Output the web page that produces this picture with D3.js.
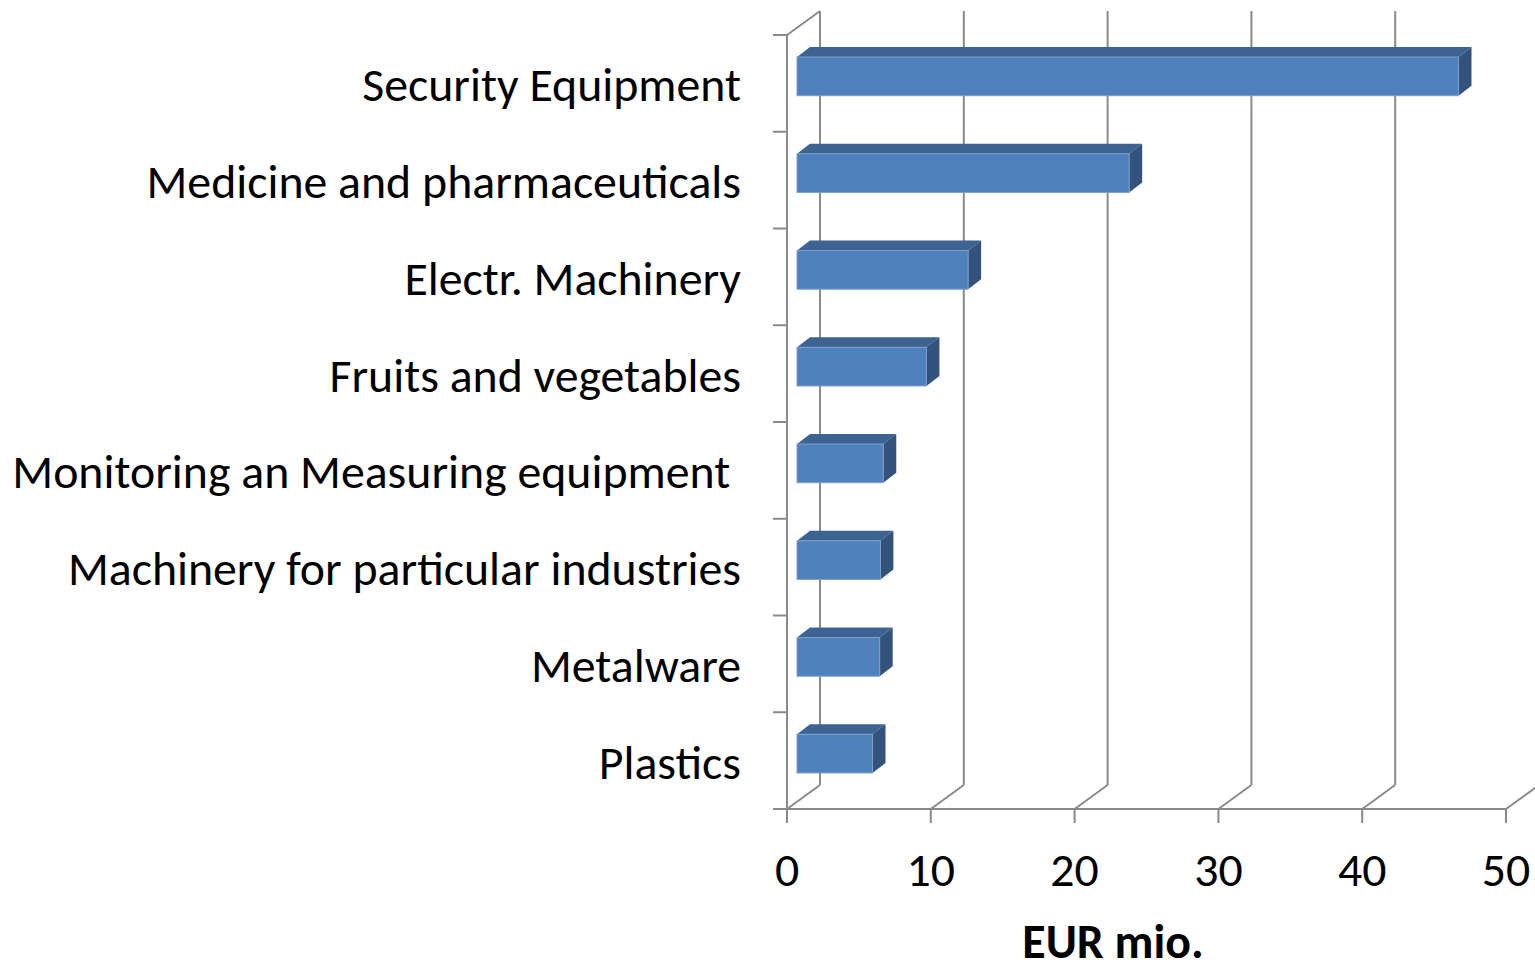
<!DOCTYPE html>
<html>
<head>
<meta charset="utf-8">
<script src="https://cdn.jsdelivr.net/npm/d3@7"></script>
<style>
  html, body { margin: 0; padding: 0; background: #ffffff; }
  svg { display: block; }
  text { font-family: Carlito, Calibri, Lato, "Open Sans", sans-serif; fill: #000; }
</style>
</head>
<body>
<svg id="chart" width="1535" height="972"></svg>
<script>
const categories = [
  "Security Equipment",
  "Medicine and pharmaceuticals",
  "Electr. Machinery",
  "Fruits and vegetables",
  "Monitoring an Measuring equipment ",
  "Machinery for particular industries",
  "Metalware",
  "Plastics"
];
const values = [46.0, 23.1, 11.9, 9.0, 6.0, 5.8, 5.75, 5.25];
const xTicks = [0, 10, 20, 30, 40, 50];
const axisTitle = "EUR mio.";

const svg = d3.select("#chart");

const x = d3.scaleLinear().domain([0, 50]).range([787, 1506]);
const y = d3.scaleBand().domain(categories).range([35, 809]).paddingInner(0).paddingOuter(0);

const DX = 33, DY = -24;         // back wall offset
const BX = 10, BY = -7;          // bar front-face offset
const BDX = 13, BDY = -10;       // bar depth
const barH = y.bandwidth() * 0.4;
const gridColor = "#8a8a8a";
const gw = 2;

const grid = svg.append("g");
const y0 = y.range()[0], y1 = y.range()[1];

xTicks.forEach(t => {
  const px = x(t);
  grid.append("line").attr("x1", px + DX).attr("x2", px + DX)
    .attr("y1", y0 + DY).attr("y2", y1 + DY)
    .attr("stroke", gridColor).attr("stroke-width", gw);
  grid.append("line").attr("x1", px).attr("y1", y1)
    .attr("x2", px + DX).attr("y2", y1 + DY)
    .attr("stroke", gridColor).attr("stroke-width", gw);
});
grid.append("line").attr("x1", x(0)).attr("y1", y0)
  .attr("x2", x(0) + DX).attr("y2", y0 + DY)
  .attr("stroke", gridColor).attr("stroke-width", gw);
grid.append("line").attr("x1", x(0)).attr("x2", x(0))
  .attr("y1", y0).attr("y2", y1)
  .attr("stroke", gridColor).attr("stroke-width", gw);
grid.append("line").attr("x1", x(0) - 14).attr("x2", x(50))
  .attr("y1", y1).attr("y2", y1)
  .attr("stroke", gridColor).attr("stroke-width", gw);
const boundaries = categories.map(c => y(c)).concat([y1]);
boundaries.forEach(b => {
  grid.append("line").attr("x1", x(0) - 14).attr("x2", x(0))
    .attr("y1", b).attr("y2", b)
    .attr("stroke", gridColor).attr("stroke-width", gw);
});
xTicks.forEach(t => {
  grid.append("line").attr("x1", x(t)).attr("x2", x(t))
    .attr("y1", y1).attr("y2", y1 + 14)
    .attr("stroke", gridColor).attr("stroke-width", gw);
});

const bars = svg.append("g");
categories.forEach((c, i) => {
  const v = values[i];
  const cy = y(c) + y.bandwidth() / 2 + BY;
  const top = cy - barH / 2, bot = cy + barH / 2;
  const xa = x(0) + BX, xb = x(v) + BX;
  bars.append("polygon")
    .attr("points", [[xa, top], [xa + BDX, top + BDY], [xb + BDX, top + BDY], [xb, top]].map(p => p.join(",")).join(" "))
    .attr("fill", "#3c6391");
  bars.append("polygon")
    .attr("points", [[xb, top], [xb + BDX, top + BDY], [xb + BDX, bot + BDY], [xb, bot]].map(p => p.join(",")).join(" "))
    .attr("fill", "#33537c");
  bars.append("rect")
    .attr("x", xa).attr("y", top).attr("width", xb - xa).attr("height", bot - top)
    .attr("fill", "#4f81bd").attr("stroke", "#7d9fcc").attr("stroke-width", 1);
});

let fs = 40;
const labels = svg.append("g").attr("text-anchor", "end");
const lab = labels.selectAll("text").data(categories).join("text")
  .attr("x", 741)
  .attr("y", d => y(d) + y.bandwidth() / 2 + 18)
  .style("font-size", fs + "px")
  .style("white-space", "pre")
  .attr("xml:space", "preserve")
  .text(d => d);
const trimmed = svg.append("text").style("font-size", fs + "px").text(categories[4].trim());
const w = trimmed.node().getComputedTextLength();
trimmed.remove();
fs = fs * 718 / w;
lab.style("font-size", fs + "px");

svg.append("g").selectAll("text").data(xTicks).join("text")
  .attr("x", d => x(d)).attr("y", 886)
  .attr("text-anchor", "middle")
  .style("font-size", fs + "px")
  .text(d => d);

svg.append("text")
  .attr("x", 1113).attr("y", 958)
  .attr("text-anchor", "middle")
  .style("font-size", fs + "px")
  .style("font-weight", "bold")
  .text(axisTitle);
</script>
</body>
</html>
